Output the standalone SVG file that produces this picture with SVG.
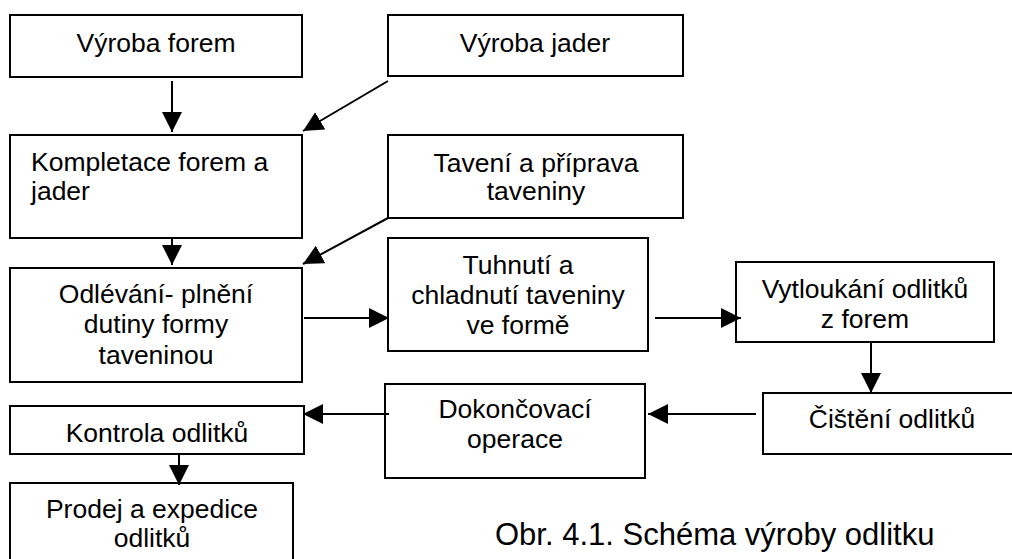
<svg xmlns="http://www.w3.org/2000/svg" width="1012" height="559" viewBox="0 0 1012 559">
<style>
rect{fill:#fff;stroke:#000;stroke-width:2}
text{font-family:"Liberation Sans",Arial,sans-serif;font-size:26.5px;fill:#000}
.c{text-anchor:middle}
.con line{stroke:#000;stroke-width:2;marker-end:url(#ah)}
</style>
<defs>
<marker id="ah" viewBox="0 0 20 20" refX="20" refY="10" markerWidth="20" markerHeight="20" markerUnits="userSpaceOnUse" orient="auto">
<path d="M0,0 L20,10 L0,20 z" fill="#000"/>
</marker>
</defs>
<rect x="0" y="0" width="1012" height="559" style="stroke:none"/>
<g id="n1"><rect x="10" y="15" width="292" height="62"/><text class="c" x="156" y="52">Výroba forem</text></g>
<g id="n2"><rect x="388" y="15" width="295" height="61"/><text class="c" x="535" y="52">Výroba jader</text></g>
<g id="n3"><rect x="10" y="135" width="292" height="103"/><text x="31" y="171">Kompletace forem a</text><text x="31" y="200">jader</text></g>
<g id="n4"><rect x="388" y="135" width="295" height="83"/><text class="c" x="536" y="172">Tavení a příprava</text><text class="c" x="536" y="200">taveniny</text></g>
<g id="n5"><rect x="10" y="268" width="292" height="114"/><text class="c" x="156" y="303">Odlévání- plnění</text><text class="c" x="156" y="333">dutiny formy</text><text class="c" x="156" y="364">taveninou</text></g>
<g id="n6"><rect x="388" y="238" width="260" height="113"/><text class="c" x="518" y="274">Tuhnutí a</text><text class="c" x="518" y="304">chladnutí taveniny</text><text class="c" x="518" y="334">ve formě</text></g>
<g id="n7"><rect x="736" y="262" width="258" height="80"/><text class="c" x="865" y="298">Vytloukání odlitků</text><text class="c" x="865" y="328">z forem</text></g>
<g id="n8"><rect x="763" y="393" width="259" height="61"/><text class="c" x="892" y="428">Čištění odlitků</text></g>
<g id="n9"><rect x="385" y="384" width="260" height="94"/><text class="c" x="515" y="418">Dokončovací</text><text class="c" x="515" y="448">operace</text></g>
<g id="n10"><rect x="10" y="406" width="294" height="48"/><text class="c" x="157" y="442">Kontrola odlitků</text></g>
<g id="n11"><rect x="10" y="483" width="283" height="90"/><text class="c" x="152" y="518">Prodej a expedice</text><text class="c" x="152" y="547">odlitků</text></g>
<g class="con" id="connectors">
<line x1="172" y1="81" x2="172" y2="132"/>
<line x1="388" y1="81" x2="303" y2="131"/>
<line x1="172" y1="238" x2="172" y2="265"/>
<line x1="388" y1="218" x2="303" y2="264"/>
<line x1="304" y1="318" x2="389" y2="318"/>
<line x1="655" y1="318" x2="741" y2="318"/>
<line x1="871" y1="342" x2="871" y2="393"/>
<line x1="756" y1="414" x2="648" y2="414"/>
<line x1="389" y1="414" x2="303" y2="414"/>
<line x1="179" y1="454" x2="179" y2="485"/>
</g>
<text id="caption" x="495" y="545" style="font-size:31px">Obr. 4.1. Schéma výroby odlitku</text>
</svg>
